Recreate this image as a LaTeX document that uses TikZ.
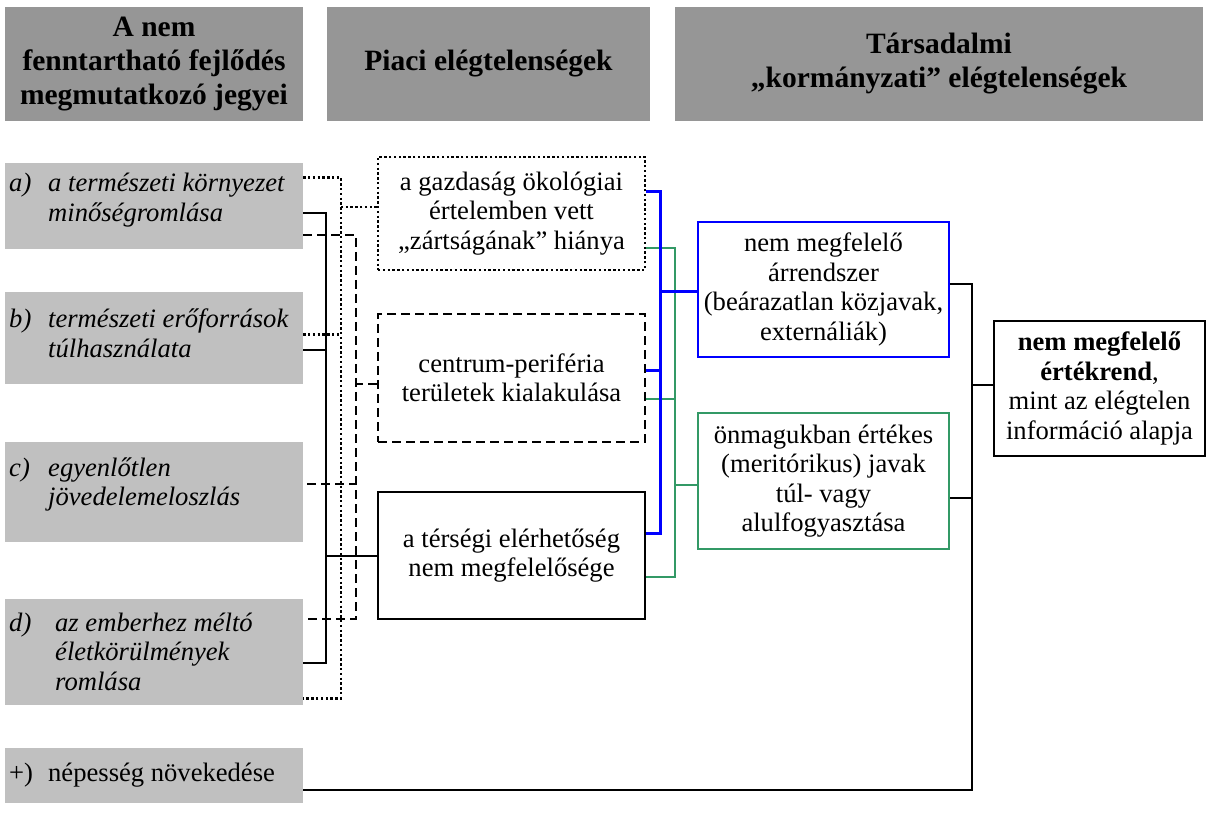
\documentclass[tikz,border=0pt]{standalone}
\usepackage{fontspec}
\setmainfont{Liberation Serif}
\usetikzlibrary{calc}
\definecolor{hdrgray}{RGB}{150,150,150}
\definecolor{lgray}{RGB}{192,192,192}
\definecolor{sgreen}{RGB}{51,153,102}
\newcommand\bodysize{\fontsize{26.6}{29.5}\selectfont}
\newcommand\hdrsize{\fontsize{29.5}{34}\selectfont\bfseries}
\begin{document}
\begin{tikzpicture}[x=1pt,y=-1pt,
  hdr/.style={fill=hdrgray, draw=none, align=center, font=\hdrsize, inner sep=0pt, minimum height=114pt},
  lbox/.style={fill=lgray, draw=none, minimum width=298pt, inner sep=0pt},
  ltext/.style={anchor=base west, inner sep=0pt, font=\bodysize\itshape},
  mbox/.style={draw, line width=2pt, minimum width=267pt, align=center, font=\bodysize, inner sep=0pt},
  cbox/.style={draw, line width=2pt, minimum width=251pt, align=center, font=\bodysize, inner sep=0pt},
  dotb/.style={line width=2.6pt, dash pattern=on 2.4pt off 2.4pt},
  dashb/.style={line width=2.4pt, dash pattern=on 9pt off 5pt},
  soll/.style={draw, line width=2pt},
  dotl/.style={draw, line width=2.6pt, dash pattern=on 2.4pt off 2.4pt},
  dashl/.style={draw, line width=2.4pt, dash pattern=on 9pt off 5pt},
  bluel/.style={draw=blue, line width=3pt},
  greenl/.style={draw=sgreen, line width=2pt}
]
\useasboundingbox (0,0) rectangle (1208,818);

% headers
\node[hdr, minimum width=298pt] (h1) at (154,64) {A nem\\fenntartható fejlődés\\megmutatkozó jegyei};
\node[hdr, minimum width=323pt] (h2) at (488.5,64) {Piaci elégtelenségek};
\node[hdr, minimum width=528pt] (h3) at (939,64) {Társadalmi\\„kormányzati” elégtelenségek};

% left boxes
\node[lbox, minimum height=86pt] (a) at (154,206) {};
\node[ltext] (at) at (9,192) {\begin{tabular}[t]{@{}p{39pt}@{}l@{}}a) & a természeti környezet\\ & minőségromlása\end{tabular}};
\node[lbox, minimum height=92pt] (b) at (154,338) {};
\node[ltext] (bt) at (9,328) {\begin{tabular}[t]{@{}p{39pt}@{}l@{}}b) & természeti erőforrások\\ & túlhasználata\end{tabular}};
\node[lbox, minimum height=100pt] (c) at (154,492) {};
\node[ltext] (ct) at (9,476) {\begin{tabular}[t]{@{}p{39pt}@{}l@{}}c) & egyenlőtlen\\ & jövedelemeloszlás\end{tabular}};
\node[lbox, minimum height=106pt] (d) at (154,652) {};
\node[ltext] (dt) at (9,631) {\begin{tabular}[t]{@{}p{46pt}@{}l@{}}d) & az emberhez méltó\\ & életkörülmények\\ & romlása\end{tabular}};
\node[lbox, minimum height=55pt] (p) at (154,775.5) {};
\node[ltext, font=\bodysize] (pt) at (9,781) {\begin{tabular}[t]{@{}p{39pt}@{}l@{}}+) & népesség növekedése\end{tabular}};

% middle boxes
\node[mbox, dotb, minimum height=113pt] (m1) at (511.5,213.5) {a gazdaság ökológiai\\értelemben vett\\„zártságának” hiánya};
\node[mbox, dashb, minimum height=128pt] (m2) at (511.5,378) {centrum-periféria\\területek kialakulása};
\node[mbox, minimum height=127pt] (m3) at (511.5,555.5) {a térségi elérhetőség\\nem megfelelősége};

% right-middle boxes
\node[cbox, draw=blue, minimum height=135pt] (bb) at (823.5,289.5) {nem megfelelő\\árrendszer\\(beárazatlan közjavak,\\externáliák)};
\node[cbox, draw=sgreen, minimum height=136pt] (gb) at (823.5,481) {önmagukban értékes\\(meritórikus) javak\\túl- vagy\\alulfogyasztása};

% right box
\node[draw, line width=2pt, minimum width=211pt, minimum height=135pt, align=center, font=\bodysize, inner sep=0pt] (rb) at (1099.5,388.5) {\textbf{nem megfelelő}\\\textbf{értékrend},\\mint az elégtelen\\információ alapja};

% bus coordinates
\coordinate (bussol) at (326,0);
\coordinate (busdot) at (341,0);
\coordinate (busdash) at (356,0);
\coordinate (busblue) at (660,0);
\coordinate (busgreen) at (675,0);
\coordinate (busr) at (972,0);

% solid connectors (left)
\draw[soll] ($(a.north east)+(0,50)$) -| ($(bussol |- d.north east)+(0,64)$) -- ($(d.north east)+(0,64)$);
\draw[soll] ($(b.north east)+(0,58)$) -- ($(bussol |- b.north east)+(0,58)$);
\draw[soll] (m3.west) -- (bussol |- m3.west);

% dotted connectors (left)
\draw[dotl] ($(a.north east)+(0,15)$) -| ($(busdot |- d.south east)+(0,-7)$) -- ($(d.south east)+(0,-7)$);
\draw[dotl] ($(b.north east)+(0,43)$) -- ($(busdot |- b.north east)+(0,43)$);
\draw[dotl] ($(m1.west)+(0,-6.5)$) -- ($(busdot |- m1.west)+(0,-6.5)$);

% dashed connectors (left)
\draw[dashl] ($(a.north east)+(0,72)$) -| ($(busdash |- d.north east)+(0,20)$) -- ($(d.north east)+(0,20)$);
\draw[dashl] ($(c.north east)+(4,42)$) -- ($(busdash |- c.north east)+(0,42)$);
\draw[dashl] ($(m2.west)+(0,6)$) -- ($(busdash |- m2.west)+(0,6)$);

% green connectors
\draw[greenl] ($(m1.north east)+(0,92)$) -| ($(busgreen |- m3.north east)+(0,86)$) -- ($(m3.north east)+(0,86)$);
\draw[greenl] ($(m2.north east)+(0,86)$) -- ($(busgreen |- m2.north east)+(0,86)$);
\draw[greenl] ($(gb.west)+(0,4)$) -- ($(busgreen |- gb.west)+(0,4)$);

% blue connectors
\draw[bluel] ($(m1.north east)+(0,36)$) -| ($(busblue |- m3.north east)+(0,42)$) -- ($(m3.north east)+(0,42)$);
\draw[bluel] ($(m2.north east)+(0,58)$) -- ($(busblue |- m2.north east)+(0,58)$);
\draw[bluel] ($(bb.west)+(0,2.5)$) -- ($(busblue |- bb.west)+(0,2.5)$);

% right connectors
\draw[soll] ($(bb.north east)+(0,63)$) -| ($(busr |- p.east)+(0,14.5)$) -- ($(p.east)+(0,14.5)$);
\draw[soll] ($(gb.north east)+(0,86)$) -- ($(busr |- gb.north east)+(0,86)$);
\draw[soll] ($(rb.west)+(0,-3.5)$) -- ($(busr |- rb.west)+(0,-3.5)$);
\end{tikzpicture}
\end{document}
